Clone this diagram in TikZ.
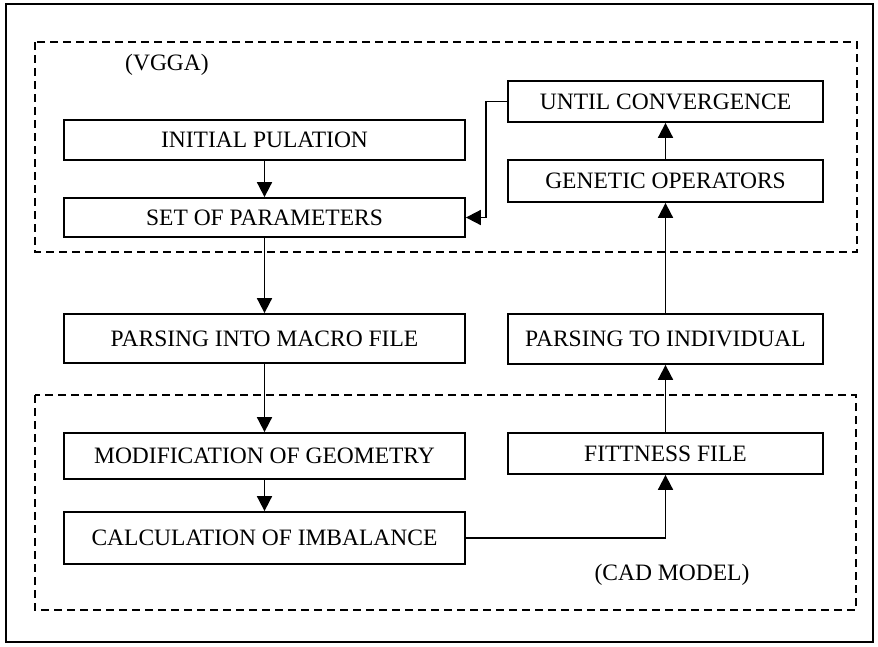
\documentclass[tikz,border=0pt]{standalone}
\usepackage{fontspec}
\setmainfont{Liberation Serif}
\usetikzlibrary{arrows.meta}

\begin{document}
\begin{tikzpicture}[
	x=1pt, y=-1pt, % Pixel-like units, y grows downwards
	% Style for the process boxes
	step box/.style={
		rectangle,
		draw=black,
		line width=1.8pt,
		inner sep=0pt,
		font=\fontsize{23.5}{26}\selectfont
	},
	left box/.style={step box, minimum width=401pt},
	right box/.style={step box, minimum width=315pt},
	% Style for the arrows between the boxes
	flow/.style={
		draw=black,
		line width=1.8pt,
		-{Triangle[length=15pt,width=15pt]}
	},
	% Style for the dashed group frames
	group/.style={
		draw=black,
		line width=1.8pt,
		dash pattern=on 8pt off 5pt
	},
	% Style for the group captions
	caption/.style={
		font=\fontsize{23.5}{26}\selectfont
	}
	]
	
	\useasboundingbox (0,0) rectangle (878,646);
	\draw[line width=1.8pt] (6,4) rectangle (873,642);
	
	% 1. Group frames and captions
	\draw[group] (35,42) rectangle (857,252);
	\draw[group] (35,395) rectangle (856,610);
	\node[caption] (vgga) at (167,65) {(VGGA)};
	\node[caption] (cad) at (672,575) {(CAD MODEL)};
	
	% 2. Left column
	\node[left box, minimum height=40pt] (ip) at (264.5,140) {INITIAL PULATION};
	\node[left box, minimum height=39pt] (sp) at (264.5,217.5) {SET OF PARAMETERS};
	\node[left box, minimum height=49pt] (pm) at (264.5,338.5) {PARSING INTO MACRO FILE};
	\node[left box, minimum height=46pt] (mg) at (264.5,456) {MODIFICATION OF GEOMETRY};
	\node[left box, minimum height=52pt] (ci) at (264.5,538) {CALCULATION OF IMBALANCE};
	
	% 3. Right column
	\node[right box, minimum height=41pt] (uc) at (665.5,101.5) {UNTIL CONVERGENCE};
	\node[right box, minimum height=42pt] (go) at (665.5,181) {GENETIC OPERATORS};
	\node[right box, minimum height=50pt] (pi) at (665.5,339) {PARSING TO INDIVIDUAL};
	\node[right box, minimum height=41pt] (ff) at (665.5,453.5) {FITTNESS FILE};
	
	% 4. Arrows
	\draw[flow] (ip) -- (sp);
	\draw[flow] (sp) -- (pm);
	\draw[flow] (pm) -- (mg);
	\draw[flow] (mg) -- (ci);
	\draw[flow] (ci.east) -| (ff);
	\draw[flow] (ff) -- (pi);
	\draw[flow] (pi) -- (go);
	\draw[flow] (go) -- (uc);
	\draw[flow] (uc.west) -- ++(-21,0) |- (sp.east);
	
\end{tikzpicture}
\end{document}
